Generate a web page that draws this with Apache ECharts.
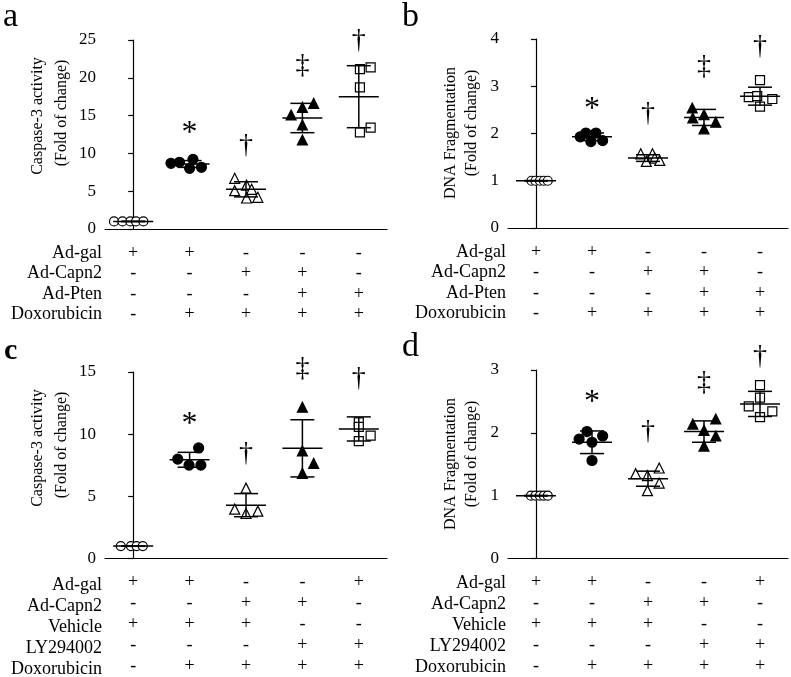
<!DOCTYPE html>
<html><head><meta charset="utf-8">
<script src="https://cdn.jsdelivr.net/npm/echarts@6/dist/echarts.min.js"></script>
<style>html,body{margin:0;padding:0;background:#fff}#c{width:791px;height:677px}</style>
</head><body><div id="c"></div>
<script>
const FONT = '"Liberation Serif", "Times New Roman", serif';
const groups = ['G1', 'G2', 'G3', 'G4', 'G5'];

// ---- Panel a: Caspase-3 activity ----
const aVals = [[1, 1, 1, 1, 1], [8.69, 8.82, 8.02, 9.21, 8.16], [6.7, 5.07, 5.8, 5.25, 4.1, 4.19], [15.08, 16.09, 16.62, 13.76, 11.77], [21.16, 21.38, 18.74, 12.79, 13.4]];
const aOffs = [[-0.34, -0.19, -0.05, 0.05, 0.18], [-0.33, -0.18, 0, 0.06, 0.21], [-0.2, -0.2, 0.01, 0.1, 0.01, 0.21], [-0.2, 0, 0.2, 0, 0], [0.02, 0.21, 0.02, 0.02, 0.21]];
const aMean = [1.0, 8.6, 5.25, 14.68, 17.5];
const aSD = [0.03, 0.45, 1.0, 1.94, 4.1];
const aMarks = ['', '*', '\u2020', '\u2021', '\u2020'];
const aMarkY = [0, 13.5, 11, 21.6, 24.9];

// ---- Panel b: DNA fragmentation ----
const bVals = [[1, 1, 1, 1, 1], [1.93, 2.01, 1.83, 2.01, 1.85], [1.57, 1.41, 1.57, 1.48, 1.43], [2.54, 2.40, 2.33, 2.24, 2.10], [3.13, 2.77, 2.79, 2.73, 2.57]];
const bOffs = [[-0.08, -0.01, 0.07, 0.14, 0.21], [-0.21, -0.11, -0.02, 0.07, 0.19], [-0.13, -0.03, 0.08, 0.12, 0.21], [-0.21, 0, -0.2, 0.21, 0], [0, -0.2, -0.05, 0.22, 0]];
const bMean = [1.0, 1.93, 1.48, 2.34, 2.79];
const bSD = [0.005, 0.08, 0.07, 0.17, 0.19];
const bMarks = ['', '*', '\u2020', '\u2021', '\u2020'];
const bMarkY = [0, 2.65, 2.43, 3.42, 3.84];

// ---- Panel c: Caspase-3 activity ----
const cVals = [[1, 1, 1, 1], [7.99, 8.89, 7.51, 7.51], [5.66, 3.97, 3.62, 3.81], [12.17, 8.65, 7.65, 6.85], [10.95, 10.58, 9.89, 9.44]];
const cOffs = [[-0.22, -0.04, 0.06, 0.17], [-0.21, 0.16, -0.01, 0.2], [0, -0.2, 0, 0.21], [0, 0, 0.2, 0], [0, 0, 0.21, 0]];
const cMean = [1.0, 7.94, 4.29, 8.86, 10.42];
const cSD = [0.02, 0.6, 0.93, 2.3, 0.97];
const cMarks = ['', '*', '\u2020', '\u2021', '\u2020'];
const cMarkY = [0, 11.3, 8.47, 15.26, 14.47];

// ---- Panel d: DNA fragmentation ----
const dVals = [[1, 1, 1, 1, 1], [1.90, 2.02, 1.95, 1.85, 1.56], [1.35, 1.32, 1.44, 1.20, 1.08], [2.14, 2.04, 2.22, 1.95, 1.79], [2.76, 2.56, 2.42, 2.34, 2.25]];
const dOffs = [[-0.09, -0.01, 0.07, 0.14, 0.21], [-0.23, -0.09, 0.19, 0, 0], [-0.22, -0.01, 0.2, 0.2, -0.01], [-0.2, 0, 0.21, 0.21, 0], [0, 0, -0.2, 0.22, 0]];
const dMean = [1.0, 1.85, 1.27, 2.02, 2.46];
const dSD = [0.005, 0.18, 0.12, 0.17, 0.2];
const dMarks = ['', '*', '\u2020', '\u2021', '\u2020'];
const dMarkY = [0, 2.59, 2.02, 2.80, 3.21];

// ---- treatment tables ----
const rowsAB = ['Ad-gal', 'Ad-Capn2', 'Ad-Pten', 'Doxorubicin'];
const signsAB = [['+', '+', '-', '-', '-'], ['-', '-', '+', '+', '-'], ['-', '-', '-', '+', '+'], ['-', '+', '+', '+', '+']];
const rowsCD = ['Ad-gal', 'Ad-Capn2', 'Vehicle', 'LY294002', 'Doxorubicin'];
const signsCD = [['+', '+', '-', '-', '+'], ['-', '-', '+', '+', '-'], ['+', '+', '+', '-', '-'], ['-', '-', '-', '+', '+'], ['-', '+', '+', '+', '+']];

// ---- y axes ----
const yAB_a = { min: 0, max: 25, interval: 5 };
const yAB_b = { min: 0, max: 4, interval: 1 };
const yCD_c = { min: 0, max: 15, interval: 5 };
const yCD_d = { min: 0, max: 3, interval: 1 };

const symbols = ['circle', 'circle', 'triangle', 'triangle', 'rect'];
const fills = ['#fff', '#000', '#fff', '#000', '#fff'];
const sizes = [9, 10, 10, 10, 9];

const panels = [
  { letter: 'a', lx: 3, ly: 0, lw: 'normal', grid: { left: 105, top: 40, width: 282, height: 189 }, y: yAB_a,
    vals: aVals, offs: aOffs, mean: aMean, sd: aSD, marks: aMarks, markY: aMarkY,
    rows: rowsAB, signs: signsAB, rowH: 20.5, rowMargin: 14, rowRight: 102,
    names: ['Caspase-3 activity', '(Fold of change)'], nameX: [38, 62], nameY: [116, 113] },
  { letter: 'b', lx: 402, ly: 0, lw: 'normal', grid: { left: 508, top: 39, width: 280, height: 189 }, y: yAB_b,
    vals: bVals, offs: bOffs, mean: bMean, sd: bSD, marks: bMarks, markY: bMarkY,
    rows: rowsAB, signs: signsAB, rowH: 20.5, rowMargin: 14, rowRight: 506,
    names: ['DNA Fragmentation', '(Fold of change)'], nameX: [451, 472], nameY: [133, 123] },
  { letter: 'c', lx: 4, ly: 336, lw: 'bold', grid: { left: 105, top: 372, width: 282, height: 189 }, y: yCD_c,
    vals: cVals, offs: cOffs, mean: cMean, sd: cSD, marks: cMarks, markY: cMarkY,
    rows: rowsCD, signs: signsCD, rowH: 21, rowMargin: 13.5, rowRight: 102,
    names: ['Caspase-3 activity', '(Fold of change)'], nameX: [38, 62], nameY: [448, 445] },
  { letter: 'd', lx: 402, ly: 330, lw: 'normal', grid: { left: 508, top: 370, width: 280, height: 189 }, y: yCD_d,
    vals: dVals, offs: dOffs, mean: dMean, sd: dSD, marks: dMarks, markY: dMarkY,
    rows: rowsCD, signs: signsCD, rowH: 21, rowMargin: 13.5, rowRight: 506,
    names: ['DNA Fragmentation', '(Fold of change)'], nameX: [451, 472], nameY: [464, 454] }
];

const grids = [], xAxes = [], yAxes = [], series = [], graphics = [];
const black = '#000';

panels.forEach((p, pi) => {
  grids.push(Object.assign({ containLabel: false }, p.grid));
  xAxes.push({
    type: 'category', gridIndex: pi, data: groups, boundaryGap: true,
    axisLine: { lineStyle: { color: black, width: 1.2 } },
    axisTick: { alignWithLabel: true, length: 5, lineStyle: { color: black, width: 1.2 } },
    axisLabel: {
      interval: 0, margin: p.rowMargin, color: black, fontFamily: FONT, fontSize: 18, lineHeight: p.rowH,
      formatter: (v, idx) => p.signs.map(r => r[idx]).join('\n')
    },
    splitLine: { show: false }
  });
  xAxes.push({ type: 'value', gridIndex: pi, min: -0.5, max: 4.5, show: false });
  yAxes.push({
    type: 'value', gridIndex: pi, min: p.y.min, max: p.y.max, interval: p.y.interval,
    axisLine: { show: true, lineStyle: { color: black, width: 1.2 } },
    axisTick: { show: true, length: 5, lineStyle: { color: black, width: 1.2 } },
    axisLabel: { color: black, fontFamily: FONT, fontSize: 17, margin: 9 },
    splitLine: { show: false }
  });
  const xv = pi * 2 + 1;
  p.vals.forEach((arr, g) => {
    series.push({
      type: 'scatter', xAxisIndex: xv, yAxisIndex: pi, symbol: symbols[g], symbolSize: sizes[g],
      itemStyle: { color: fills[g], borderColor: black, borderWidth: 1.2, opacity: 1 },
      data: arr.map((v, k) => [g + p.offs[g][k], v]), z: 3, silent: true
    });
  });
  series.push({
    type: 'custom', xAxisIndex: xv, yAxisIndex: pi, z: 5, clip: false, silent: true,
    data: p.mean.map((m, g) => [g, m, p.sd[g]]),
    renderItem: (params, api) => {
      const x = api.value(0), m = api.value(1), s = api.value(2);
      const pm = api.coord([x, m]), ph = api.coord([x, m + s]), pl = api.coord([x, m - s]);
      const st = { stroke: black, lineWidth: 1.5 };
      return { type: 'group', children: [
        { type: 'line', shape: { x1: pm[0] - 20, y1: pm[1], x2: pm[0] + 20, y2: pm[1] }, style: st },
        { type: 'line', shape: { x1: ph[0], y1: ph[1], x2: pl[0], y2: pl[1] }, style: st },
        { type: 'line', shape: { x1: ph[0] - 12, y1: ph[1], x2: ph[0] + 12, y2: ph[1] }, style: st },
        { type: 'line', shape: { x1: pl[0] - 12, y1: pl[1], x2: pl[0] + 12, y2: pl[1] }, style: st }
      ] };
    }
  });
  series.push({
    type: 'custom', xAxisIndex: xv, yAxisIndex: pi, z: 6, clip: false, silent: true,
    data: p.markY.map((y, g) => [g, y]),
    renderItem: (params, api) => {
      const t = p.marks[params.dataIndex];
      if (!t) return null;
      const c = api.coord([api.value(0), api.value(1)]);
      const isStar = t === '*';
      return { type: 'text', x: c[0], y: c[1] + (isStar ? 7 : 0),
        style: { text: t, fill: black, font: (isStar ? '32px ' : '28px ') + FONT, align: 'center', verticalAlign: 'middle' } };
    }
  });
  graphics.push({ type: 'text', left: p.lx, top: p.ly, style: { text: p.letter, fill: black, font: p.lw + ' ' + (p.lw === 'bold' ? '30px ' : '34px ') + FONT } });
  p.names.forEach((n, k) => {
    graphics.push({ type: 'text', x: p.nameX[k], y: p.nameY[k], rotation: Math.PI / 2,
      style: { text: n, fill: black, font: '16px ' + FONT, align: 'center', verticalAlign: 'middle' } });
  });
  const bottom = p.grid.top + p.grid.height;
  p.rows.forEach((r, k) => {
    graphics.push({ type: 'text', x: p.rowRight, y: bottom + p.rowMargin + p.rowH / 2 + k * p.rowH,
      style: { text: r, fill: black, font: '18px ' + FONT, align: 'right', verticalAlign: 'middle' } });
  });
});

const chart = echarts.init(document.getElementById('c'), null, { renderer: 'canvas' });
chart.setOption({
  animation: false, backgroundColor: '#fff',
  grid: grids, xAxis: xAxes, yAxis: yAxes, series: series, graphic: graphics
});
</script></body></html>
